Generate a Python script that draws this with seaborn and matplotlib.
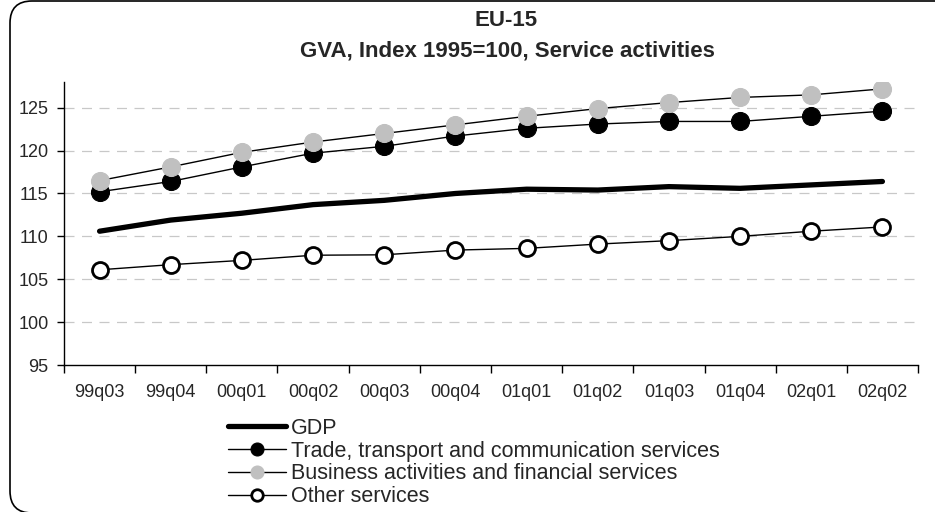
import numpy as np
import pandas as pd
import matplotlib
matplotlib.use("Agg")
import matplotlib.pyplot as plt
import seaborn as sns
from matplotlib.patches import FancyBboxPatch
from matplotlib.transforms import IdentityTransform

# =========================================
# DATA
# =========================================

quarters = ["99q03", "99q04", "00q01", "00q02", "00q03", "00q04",
            "01q01", "01q02", "01q03", "01q04", "02q01", "02q02"]

gdp = [110.6, 111.9, 112.7, 113.7, 114.2, 115.0,
       115.5, 115.4, 115.8, 115.6, 116.0, 116.4]
trade = [115.2, 116.4, 118.1, 119.7, 120.5, 121.7,
         122.6, 123.1, 123.4, 123.4, 124.0, 124.6]
business = [116.5, 118.1, 119.8, 121.0, 122.0, 123.0,
            124.0, 124.9, 125.6, 126.2, 126.5, 127.2]
other = [106.1, 106.7, 107.2, 107.8, 107.85, 108.4,
         108.6, 109.1, 109.5, 110.0, 110.6, 111.1]

series_names = ["GDP",
                "Trade, transport and communication services",
                "Business activities and financial services",
                "Other services"]

df = pd.DataFrame({
    "Quarter": quarters * 4,
    "Series": np.repeat(series_names, len(quarters)),
    "Value": gdp + trade + business + other,
})

# =========================================
# STYLE
# =========================================

sns.set_style("white")
plt.rcParams["font.family"] = ["Liberation Sans", "DejaVu Sans"]

fig = plt.figure(figsize=(9.35, 5.12), dpi=100)
ax = fig.add_axes([64 / 935, 1 - 365 / 512, 854 / 935, 283 / 512])

# rounded chart border (pixel coordinates, right/bottom run off the canvas)
border = FancyBboxPatch((10, -1), 947, 512,
                        boxstyle="round,pad=0,rounding_size=22",
                        fill=False, edgecolor="black", linewidth=1.2)
border.set_transform(IdentityTransform())
fig.patches.append(border)

# -----------------------------------------
# LINES
# -----------------------------------------

styles = {
    "GDP": dict(color="black", linewidth=3.8, marker=None),
    "Trade, transport and communication services": dict(
        color="black", linewidth=1.0, marker="o", markersize=13,
        markerfacecolor="black", markeredgecolor="black"),
    "Business activities and financial services": dict(
        color="black", linewidth=1.0, marker="o", markersize=13,
        markerfacecolor="#c0c0c0", markeredgecolor="#c0c0c0"),
    "Other services": dict(
        color="black", linewidth=1.0, marker="o", markersize=11.5,
        markerfacecolor="white", markeredgecolor="black",
        markeredgewidth=2),
}

for name in ["GDP", series_names[3], series_names[1], series_names[2]]:
    sub = df[df["Series"] == name]
    sns.lineplot(data=sub, x="Quarter", y="Value", sort=False,
                 ax=ax, label=name, zorder=3, **styles[name])

# -----------------------------------------
# AXES
# -----------------------------------------

ax.set_ylim(95, 128)
ax.set_xlim(-0.5, len(quarters) - 0.5)
ax.set_yticks(np.arange(95, 126, 5))
ax.set_xticks(np.arange(-0.5, len(quarters), 1))
ax.set_xticklabels([])
ax.set_xticks(np.arange(len(quarters)), minor=True)
ax.set_xticklabels(quarters, minor=True)
ax.tick_params(axis="x", which="major", direction="out", length=6,
               width=1, color="black", bottom=True)
ax.tick_params(axis="x", which="minor", length=0, pad=14, labelsize=13)
ax.tick_params(axis="y", direction="out", length=5, width=1,
               color="black", left=True, labelsize=13, pad=6)
ax.set_xlabel("")
ax.set_ylabel("")

for y in range(100, 126, 5):
    ax.axhline(y, color="#c8c8c8", linewidth=0.9,
               linestyle=(0, (8, 6)), zorder=1)

for side in ["top", "right"]:
    ax.spines[side].set_visible(False)
for side in ["left", "bottom"]:
    ax.spines[side].set_color("black")
    ax.spines[side].set_linewidth(1.0)

# -----------------------------------------
# LEGEND
# -----------------------------------------

handles, labels = ax.get_legend_handles_labels()
order = [labels.index(n) for n in series_names]
ax.legend([handles[i] for i in order], [labels[i] for i in order],
          loc="upper left", bbox_to_anchor=(228 / 935, 1 - 418 / 512),
          bbox_transform=fig.transFigure, frameon=False,
          fontsize=15.5, handlelength=2.7, handletextpad=0.22,
          labelspacing=0.08, borderpad=0, borderaxespad=0,
          markerscale=0.72)

# -----------------------------------------
# TITLE
# -----------------------------------------

fig.text(506 / 935, 1 - 21 / 512, "EU-15", ha="center", va="center",
         fontsize=16, fontweight="bold")
fig.text(507 / 935, 1 - 51 / 512, "GVA, Index 1995=100, Service activities",
         ha="center", va="center", fontsize=16, fontweight="bold")

plt.savefig("out.png", dpi=100)
